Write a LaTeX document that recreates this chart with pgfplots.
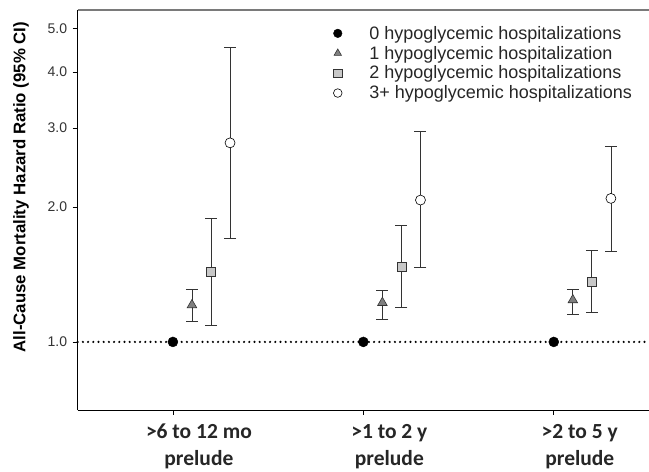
\documentclass[border=0pt]{standalone}
\usepackage{fontspec}
\setmainfont{Liberation Sans}
\newfontfamily\carlito{Carlito}
\usepackage{pgfplots}
\pgfplotsset{compat=1.18}
\usepackage{pgfplotstable}
\definecolor{trifill}{HTML}{808080}
\definecolor{sqfill}{HTML}{C8C8C8}
\definecolor{barcol}{HTML}{333333}
\definecolor{topline}{HTML}{7A7A7A}

\pgfplotstableread{
x y
1 1
2 1
3 1
}\zerotab
\pgfplotstableread{
x y ep em
1.1 1.209 0.103 0.095
2.1 1.223 0.078 0.098
3.1 1.240 0.072 0.086
}\onetab
\pgfplotstableread{
x y ep em
1.2 1.432 0.457 0.341
2.2 1.471 0.352 0.279
3.2 1.363 0.240 0.201
}\twotab
\pgfplotstableread{
x y ep em
1.3 2.780 1.770 1.078
2.3 2.072 0.881 0.608
3.3 2.090 0.644 0.501
}\threetab

\begin{document}
\begin{tikzpicture}
\begin{axis}[
  scale only axis,
  width=571.3pt, height=400pt,
  ymode=log,
  xmin=0.5, xmax=3.5,
  ymin=0.705, ymax=5.5,
  axis x line*=bottom,
  axis y line*=left,
  axis line style={black, line width=0.8pt},
  tick align=outside,
  major tick length=5pt,
  tick style={black, line width=0.8pt},
  xtick={1,2,3},
  xticklabels={{>6 to 12 mo\\prelude},{>1 to 2 y\\prelude},{>2 to 5 y\\prelude}},
  xticklabel style={align=center, text=black!85, xshift=26pt, yshift=-5.5pt, font=\carlito\bfseries\fontsize{21.5}{27}\selectfont},
  ytick={1,2,3,4,5},
  yticklabels={1.0,2.0,3.0,4.0,5.0},
  yminorticks=false,
  yticklabel style={text=black!80, xshift=-2pt, font=\fontsize{14}{15}\selectfont},
  every axis y label/.style={at={(axis description cs:0,0.5)}, xshift=-56.7pt, yshift=23pt, rotate=90, anchor=center},
  ylabel={All-Cause Mortality Hazard Ratio (95\% CI)},
  ylabel style={font=\bfseries\fontsize{16.8}{18}\selectfont},
  clip=false,
  legend style={draw=none, fill=none, at={(axis description cs:0.44,0.972)}, anchor=north west,
    font=\fontsize{18}{20}\selectfont, text=black!85,
    nodes={text height=13.5pt, text depth=2pt, inner ysep=2.2pt, inner xsep=4pt}},
  legend cell align=left,
  legend image code/.code={\path[draw=none,fill=none] (-5.5pt,0pt) -- (27.5pt,0pt); \draw[#1, mark size=4.3pt] plot coordinates {(0pt,0pt)};},
  error bars/y dir=both,
  error bars/y explicit,
  error bars/error bar style={color=barcol, line width=0.8pt},
  error bars/error mark options={color=barcol, line width=0.8pt, mark size=6pt, rotate=90},
]
\addplot[black, line width=2.4pt, line cap=round, dash pattern=on 0pt off 5.2pt, forget plot, error bars/y dir=none] coordinates {(0.5,1) (3.5,1)};
\addplot[only marks, mark=*, mark size=5pt, mark options={fill=black, draw=black}, error bars/y dir=none] table[x=x,y=y] {\zerotab};
\addlegendentry{0 hypoglycemic hospitalizations}
\addplot[only marks, mark=triangle*, mark size=5.5pt, mark options={fill=trifill, draw=barcol, line width=0.6pt}] table[x=x,y=y,y error plus=ep,y error minus=em] {\onetab};
\addlegendentry{1 hypoglycemic hospitalization}
\addplot[only marks, mark=square*, mark size=4.5pt, mark options={fill=sqfill, draw=barcol, line width=0.6pt}] table[x=x,y=y,y error plus=ep,y error minus=em] {\twotab};
\addlegendentry{2 hypoglycemic hospitalizations}
\addplot[only marks, mark=*, mark size=5pt, mark options={fill=white, draw=black, line width=0.6pt}] table[x=x,y=y,y error plus=ep,y error minus=em] {\threetab};
\addlegendentry{3+ hypoglycemic hospitalizations}
\draw[topline, line width=1.6pt] (rel axis cs:0,1) -- (rel axis cs:1,1);
\end{axis}
\pgfresetboundingbox
\useasboundingbox (-77.7pt,-62pt) rectangle (571.3pt,410pt);
\end{tikzpicture}
\end{document}
